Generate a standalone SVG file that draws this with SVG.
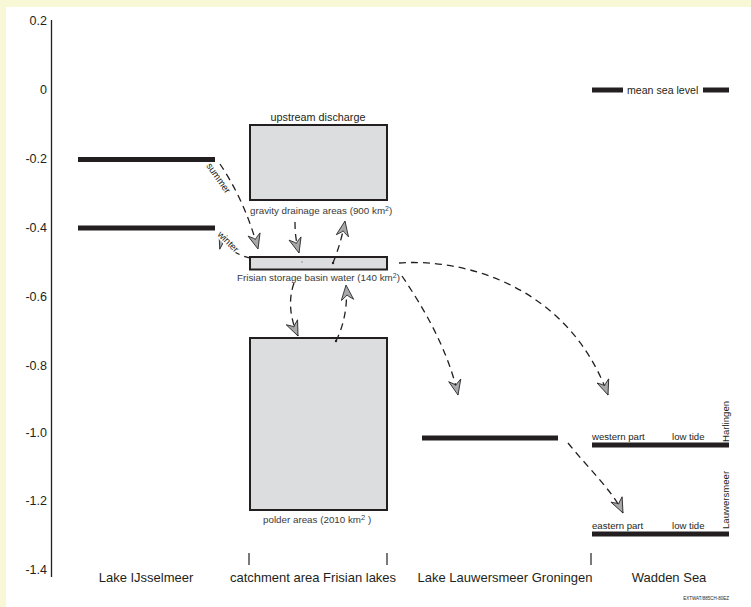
<svg xmlns="http://www.w3.org/2000/svg" width="751" height="607" viewBox="0 0 751 607">
<style>
text{font-family:"Liberation Sans",Arial,sans-serif;fill:#231f20}
.ax{font-size:12.5px;text-anchor:end}
.lvl{stroke:#231f20;stroke-width:5;fill:none}
.box{fill:#dcdddf;stroke:#231f20;stroke-width:2}
.lbl{font-size:9.8px;fill:#3a3a3a}
.cat{font-size:13px;text-anchor:middle}
.sm{font-size:9.6px}
.halo{paint-order:stroke;stroke:#ffffff;stroke-width:3px}
.tick{stroke:#231f20;stroke-width:1.2}
.flow{fill:none;stroke:#231f20;stroke-width:1.3;stroke-dasharray:7 5;marker-end:url(#ah)}
</style>
<defs>
<marker id="ah" markerUnits="userSpaceOnUse" markerWidth="20" markerHeight="16" refX="16" refY="7" orient="auto" viewBox="0 0 20 16">
<path d="M16,7 L1,0.8 L4.5,5.5 L6,7 L4.5,8.5 L1,13.2 Z" fill="#a7a8aa" stroke="#231f20" stroke-width="0.8" stroke-linejoin="round"/>
</marker>
</defs>
<rect x="0" y="0" width="751" height="607" fill="#f8f7d6"/>
<rect x="6" y="7" width="745" height="600" fill="#ffffff"/>

<g id="axis">
<line x1="51.5" y1="20" x2="51.5" y2="577" stroke="#231f20" stroke-width="1.3"/>
<text class="ax" x="47" y="25">0.2</text>
<text class="ax" x="47" y="94">0</text>
<text class="ax" x="47" y="163">-0.2</text>
<text class="ax" x="47" y="232">-0.4</text>
<text class="ax" x="47" y="301">-0.6</text>
<text class="ax" x="47" y="370">-0.8</text>
<text class="ax" x="47" y="437">-1.0</text>
<text class="ax" x="47" y="505">-1.2</text>
<text class="ax" x="47" y="574">-1.4</text>
</g>

<g id="ijsselmeer">
<line class="lvl" x1="78" y1="159.5" x2="215" y2="159.5"/>
<line class="lvl" x1="78" y1="228" x2="215" y2="228"/>
</g>

<g id="gravity">
<text x="318" y="121" font-size="10.8" text-anchor="middle">upstream discharge</text>
<rect class="box" x="250" y="125" width="137" height="75"/>
<text class="lbl" x="250" y="214">gravity drainage areas (900 km<tspan font-size="7" dy="-3.5">2</tspan><tspan dy="3.5">)</tspan></text>
</g>

<g id="storage">
<rect class="box" x="250" y="257" width="137" height="12.5"/>
<text class="lbl" x="237" y="281">Frisian storage basin water (140 km<tspan font-size="7" dy="-3.5">2</tspan><tspan dy="3.5">)</tspan></text>
<circle cx="302" cy="262" r="0.8" fill="#888"/>
<circle cx="333" cy="263" r="1.2" fill="#231f20"/>
</g>

<g id="polder">
<rect class="box" x="250" y="338" width="137" height="172"/>
<circle cx="336" cy="341" r="1.2" fill="#231f20"/>
<text class="lbl" x="263" y="523">polder areas (2010 km<tspan font-size="7.5" dy="-3.5">2</tspan><tspan dy="3.5"> )</tspan></text>
</g>

<g id="lauwersmeer">
<line class="lvl" x1="422" y1="438" x2="558" y2="438"/>
</g>

<g id="wadden">
<line class="lvl" x1="592" y1="90" x2="623" y2="90"/>
<text x="627" y="94" font-size="10.6" fill="#3a3a3a">mean sea level</text>
<line class="lvl" x1="703" y1="90" x2="729" y2="90"/>
<text class="sm" x="592" y="440">western part</text>
<text class="sm" x="672" y="440">low tide</text>
<line class="lvl" x1="592" y1="445" x2="729" y2="445"/>
<text class="sm" transform="translate(729,442) rotate(-90)">Harlingen</text>
<text class="sm" x="592" y="529">eastern part</text>
<text class="sm" x="672" y="529">low tide</text>
<line class="lvl" x1="592" y1="534" x2="729" y2="534"/>
<text class="sm" transform="translate(729,529) rotate(-90)">Lauwersmeer</text>
</g>

<g id="categories">
<line class="tick" x1="249" y1="553" x2="249" y2="565"/>
<line class="tick" x1="387" y1="553" x2="387" y2="565"/>
<line class="tick" x1="591" y1="553" x2="591" y2="565"/>
<text class="cat" x="146" y="582">Lake IJsselmeer</text>
<text class="cat" x="313" y="582">catchment area Frisian lakes</text>
<text class="cat" x="505" y="582">Lake Lauwersmeer Groningen</text>
<text class="cat" x="669" y="582">Wadden Sea</text>
<text x="729" y="600" font-size="4.5" text-anchor="end" fill="#555">EXTWAT/885CH-80EZ</text>
</g>

<g id="connectors">
<path class="flow" d="M220,164 C234,185 248,212 258,249"/>
<path class="flow" d="M251,258 C238,256 226,248 219,233"/>
<path class="flow" d="M295,222 C295,232 296,242 299,253"/>
<path class="flow" d="M333,263 C338,250 342,238 345,221"/>
<path class="flow" d="M294,283 C288,300 290,318 298,336"/>
<path class="flow" d="M336,341 C344,325 348,305 346,285"/>
<path class="flow" d="M402,276 C425,310 448,350 458,395"/>
<path class="flow" d="M399,263 C470,258 570,290 608,395"/>
<path class="flow" d="M568,443 C588,468 612,490 623,513"/>
<text class="sm" transform="translate(216,180) rotate(55)" text-anchor="middle">summer</text>
<text class="sm halo" transform="translate(226,244) rotate(45)" text-anchor="middle">winter</text>
</g>
</svg>
